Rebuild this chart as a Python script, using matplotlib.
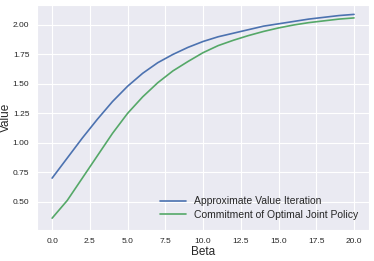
import numpy as np
import matplotlib
matplotlib.use("Agg")
import matplotlib.pyplot as plt
import seaborn as sns

# ==================================================
# Daten
# ==================================================
beta = list(range(21))
avi = [0.70, 0.87, 1.04, 1.20, 1.35, 1.48, 1.59, 1.68, 1.75, 1.81, 1.86,
       1.90, 1.93, 1.96, 1.99, 2.01, 2.03, 2.05, 2.065, 2.08, 2.09]
commit = [0.36, 0.51, 0.70, 0.89, 1.08, 1.25, 1.39, 1.51, 1.61, 1.69, 1.765,
          1.825, 1.87, 1.91, 1.945, 1.975, 2.00, 2.02, 2.035, 2.05, 2.06]

labels = ["Approximate Value Iteration", "Commitment of Optimal Joint Policy"]

# ==================================================
# Plot
# ==================================================
sns.set_style("darkgrid")
plt.rcParams["font.family"] = ["Liberation Sans", "DejaVu Sans"]

fig = plt.figure(figsize=(3.74, 2.61), dpi=100)
ax = fig.add_axes([0.099, 0.119, 0.888, 0.862])

ax.plot(beta, avi, color="#4C72B0", lw=1.2, label=labels[0])
ax.plot(beta, commit, color="#55A868", lw=1.2, label=labels[1])

ax.set_xticks(np.arange(0, 20.1, 2.5))
ax.set_yticks([0.5, 0.75, 1.0, 1.25, 1.5, 1.75, 2.0])
ax.set_xlim(-1.0, 21.0)
ax.set_ylim(0.26, 2.17)
ax.tick_params(labelsize=6, pad=2)
ax.set_xlabel("Beta", fontsize=8.5, labelpad=1)
ax.set_ylabel("Value", fontsize=8.5, labelpad=0.5)

ax.legend(loc="lower right", fontsize=7.5, frameon=False, handlelength=2.5,
          borderaxespad=0.6, labelspacing=0.3)

fig.savefig("out.png", dpi=100)
